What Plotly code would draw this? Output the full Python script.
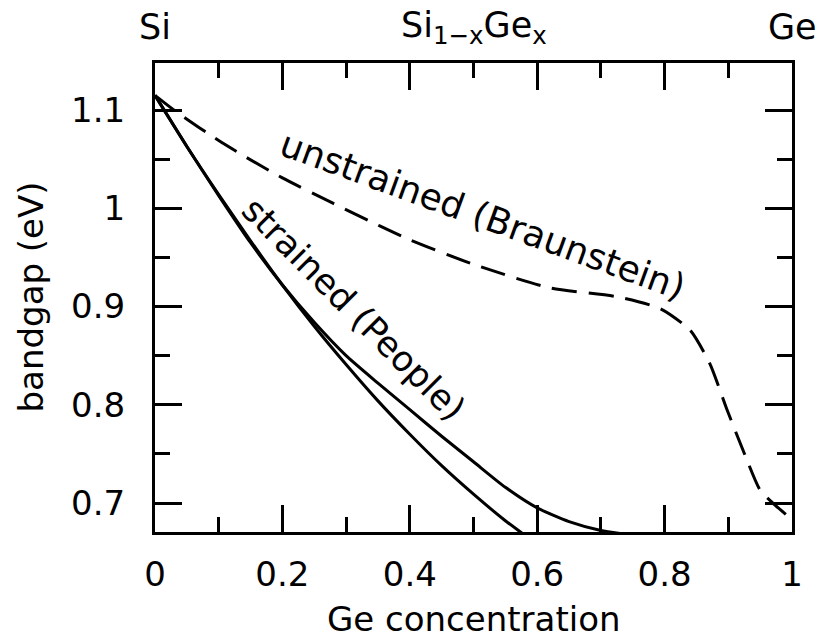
import plotly.graph_objects as go

# Unstrained (Braunstein) bandgap, dashed
x_unstrained = [0, 0.036, 0.1, 0.138, 0.2, 0.28, 0.35, 0.4, 0.5, 0.62, 0.725, 0.793, 0.84, 0.871, 0.898, 0.923, 0.95, 0.97, 1.0]
y_unstrained = [1.115, 1.097, 1.069, 1.054, 1.031, 1.005, 0.983, 0.968, 0.943, 0.919, 0.910, 0.898, 0.876, 0.842, 0.795, 0.754, 0.713, 0.700, 0.683]

# Strained (People) - upper curve
x_strained_a = [0, 0.05, 0.1, 0.15, 0.2, 0.25, 0.3, 0.35, 0.4, 0.45, 0.5, 0.55, 0.6, 0.65, 0.7, 0.73]
y_strained_a = [1.115, 1.063, 1.013, 0.965, 0.922, 0.884, 0.850, 0.822, 0.795, 0.768, 0.742, 0.716, 0.695, 0.681, 0.672, 0.669]

# Strained (People) - lower curve
x_strained_b = [0, 0.05, 0.1, 0.15, 0.2, 0.25, 0.3, 0.35, 0.4, 0.45, 0.5, 0.55, 0.58]
y_strained_b = [1.115, 1.063, 1.014, 0.967, 0.922, 0.880, 0.841, 0.804, 0.770, 0.738, 0.709, 0.682, 0.6675]

x_ticks = [0, 0.2, 0.4, 0.6, 0.8, 1]
y_ticks = [0.7, 0.8, 0.9, 1, 1.1]

FONT = "DejaVu Sans"
FS = 34
FS_ANN = 35

fig = go.Figure()
fig.add_trace(go.Scatter(x=x_unstrained, y=y_unstrained, mode="lines",
                         line=dict(color="black", width=3, dash="25px,12px", shape="spline", smoothing=0.6),
                         showlegend=False))
fig.add_trace(go.Scatter(x=x_strained_a, y=y_strained_a, mode="lines",
                         line=dict(color="black", width=3, shape="spline", smoothing=0.6),
                         showlegend=False))
fig.add_trace(go.Scatter(x=x_strained_b, y=y_strained_b, mode="lines",
                         line=dict(color="black", width=3, shape="spline", smoothing=0.6),
                         showlegend=False))

axis_common = dict(showline=True, linewidth=3, linecolor="black", mirror="ticks",
                   ticks="inside", tickwidth=3, tickcolor="black", showgrid=False, zeroline=False,
                   automargin=False,
                   tickfont=dict(family=FONT, size=FS, color="black"))

fig.update_xaxes(range=[0, 1], tickvals=x_ticks, ticklen=27,
                 minor=dict(dtick=0.1, ticklen=15, tickwidth=3, tickcolor="black", ticks="inside"),
                 ticklabelstandoff=10, **axis_common)
fig.update_yaxes(range=[0.6705, 1.148], tickvals=y_ticks, ticklen=27,
                 minor=dict(dtick=0.05, ticklen=15, tickwidth=3, tickcolor="black", ticks="inside"),
                 ticklabelstandoff=20, **axis_common)

annots = [
    dict(text="Si", x=0, xref="x", y=1, yref="paper", yanchor="middle", yshift=36, size=FS_ANN),
    dict(text="Si<sub>1−x</sub>Ge<sub>x</sub>", x=0.5, xref="x", y=1, yref="paper", yanchor="middle", yshift=36, size=FS_ANN),
    dict(text="Ge", x=1, xref="x", y=1, yref="paper", yanchor="middle", yshift=36, size=FS_ANN),
    dict(text="unstrained (Braunstein)", x=0.515, y=0.993, xref="x", yref="y", textangle=20, size=36),
    dict(text="strained (People)", x=0.312, y=0.898, xref="x", yref="y", textangle=45, size=FS_ANN),
    # axis titles
    dict(text="Ge concentration", x=0.5, xref="x", y=0, yref="paper", yanchor="middle", yshift=-87, size=FS),
    dict(text="bandgap (eV)", x=0, xref="paper", xanchor="center", xshift=-125, y=0.5, yref="paper",
         yanchor="middle", textangle=-90, size=FS),
]
for a in annots:
    size = a.pop("size")
    a["font"] = dict(family=FONT, size=size, color="black")
    a["showarrow"] = False
    fig.add_annotation(**a)

fig.update_layout(width=817, height=641, margin=dict(l=155, r=25, t=63, b=109),
                  paper_bgcolor="white", plot_bgcolor="white")

fig.write_html("out.html")
